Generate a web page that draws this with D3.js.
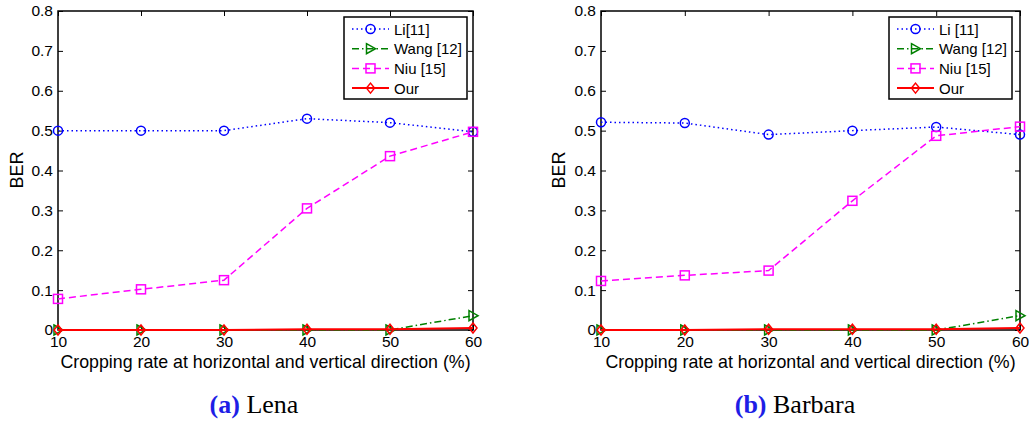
<!DOCTYPE html>
<html>
<head>
<meta charset="utf-8">
<script src="https://cdn.jsdelivr.net/npm/d3@7"></script>
<style>
  body { margin: 0; background: #fff; }
  svg { display: block; font-family: "Liberation Sans", Arial, sans-serif; }
</style>
</head>
<body>
<svg id="chart"></svg>
<script>
// cropping rates on the x axis
var rates = [10, 20, 30, 40, 50, 60];
var yTicks = [0, 0.1, 0.2, 0.3, 0.4, 0.5, 0.6, 0.7, 0.8];

// (a) Lena
var lenaLi   = [0.500, 0.500, 0.500, 0.530, 0.520, 0.497];
var lenaWang = [0.000, 0.000, 0.000, 0.000, 0.000, 0.036];
var lenaNiu  = [0.078, 0.102, 0.125, 0.305, 0.436, 0.497];
var lenaOur  = [0.000, 0.000, 0.000, 0.002, 0.002, 0.005];

// (b) Barbara
var barbLi   = [0.521, 0.519, 0.490, 0.500, 0.509, 0.490];
var barbWang = [0.000, 0.000, 0.000, 0.000, 0.000, 0.036];
var barbNiu  = [0.123, 0.137, 0.149, 0.324, 0.487, 0.510];
var barbOur  = [0.000, 0.000, 0.002, 0.002, 0.002, 0.005];

var lenaLabels = ["Li[11]", "Wang [12]", "Niu [15]", "Our"];
var barbLabels = ["Li [11]", "Wang [12]", "Niu [15]", "Our"];

var width = 1029, height = 423;
var svg = d3.select("#chart").attr("width", width).attr("height", height);

// line styles per method
var styles = [
    { color: "#0000ff", dash: "1.5,3", marker: "circle" },
    { color: "#008000", dash: "7,3,1.5,3", marker: "triangle" },
    { color: "#ff00ff", dash: "7,4", marker: "square" },
    { color: "#ff0000", dash: null, marker: "diamond" }
];

function drawMarker(g, type, x, y, color) {
    if (type == "circle") {
        g.append("circle").attr("cx", x).attr("cy", y).attr("r", 4.5)
            .attr("fill", "none").attr("stroke", color).attr("stroke-width", 1.5);
    } else if (type == "square") {
        g.append("rect").attr("x", x - 4.5).attr("y", y - 4.5).attr("width", 9).attr("height", 9)
            .attr("fill", "none").attr("stroke", color).attr("stroke-width", 1.5);
    } else if (type == "triangle") {
        g.append("path").attr("d", `M${x - 4},${y - 5}L${x + 5},${y}L${x - 4},${y + 5}Z`)
            .attr("fill", "none").attr("stroke", color).attr("stroke-width", 1.5);
    } else {
        g.append("path").attr("d", `M${x},${y - 5}L${x + 4},${y}L${x},${y + 5}L${x - 4},${y}Z`)
            .attr("fill", "none").attr("stroke", color).attr("stroke-width", 1.5);
    }
}

function drawPanel(left, right, series, labels, tag, name, captionX, berX, legendX) {
    var top = 11, bottom = 330;
    var x = d3.scaleLinear().domain([10, 60]).range([left, right]);
    var y = d3.scaleLinear().domain([0, 0.8]).range([bottom, top]);
    var g = svg.append("g");

    // axes with inward ticks on all four sides
    var fmtY = d => d == 0 ? "0" : d3.format(".1f")(d);
    g.append("g").attr("transform", `translate(${left},0)`)
        .call(d3.axisLeft(y).tickValues(yTicks).tickFormat(fmtY).tickSizeInner(-5).tickSizeOuter(0).tickPadding(5));
    g.append("g").attr("transform", `translate(${right},0)`)
        .call(d3.axisRight(y).tickValues(yTicks).tickFormat("").tickSizeInner(-5).tickSizeOuter(0));
    g.append("g").attr("transform", `translate(0,${bottom})`)
        .call(d3.axisBottom(x).tickValues(rates).tickFormat(d3.format("d")).tickSizeInner(-5).tickSizeOuter(0).tickPadding(6));
    g.append("g").attr("transform", `translate(0,${top})`)
        .call(d3.axisTop(x).tickValues(rates).tickFormat("").tickSizeInner(-5).tickSizeOuter(0));
    g.selectAll(".tick line").attr("stroke", "#000").attr("stroke-width", 1);
    g.selectAll(".domain").remove();
    g.selectAll(".tick text").attr("fill", "#000").attr("font-size", 15.5)
        .attr("font-family", "Liberation Sans, Arial, sans-serif");

    g.append("rect").attr("x", left).attr("y", top)
        .attr("width", right - left).attr("height", bottom - top)
        .attr("fill", "none").attr("stroke", "#000").attr("stroke-width", 1.5);

    // data lines
    var line = d3.line().x((d, i) => x(rates[i])).y(d => y(d));
    series.forEach((vals, k) => {
        var s = styles[k];
        g.append("path").datum(vals).attr("d", line)
            .attr("fill", "none").attr("stroke", s.color)
            .attr("stroke-width", k == 3 ? 2 : 1.5)
            .attr("stroke-dasharray", s.dash);
        vals.forEach((v, i) => drawMarker(g, s.marker, x(rates[i]), y(v), s.color));
    });

    // legend
    var lg = g.append("g").attr("transform", `translate(${legendX},17)`);
    lg.append("rect").attr("width", 123).attr("height", 82)
        .attr("fill", "#fff").attr("stroke", "#000").attr("stroke-width", 1.5);
    labels.forEach((lab, k) => {
        var s = styles[k];
        var ly = 12 + k * 19.7;
        lg.append("line").attr("x1", 8).attr("x2", 45).attr("y1", ly).attr("y2", ly)
            .attr("stroke", s.color).attr("stroke-width", k == 3 ? 2 : 1.5)
            .attr("stroke-dasharray", s.dash);
        drawMarker(lg, s.marker, 26.5, ly, s.color);
        lg.append("text").attr("x", 50).attr("y", ly + 5.5)
            .attr("font-size", 15).attr("fill", "#000").text(lab);
    });

    // axis titles
    g.append("text").attr("x", (left + right) / 2).attr("y", 368)
        .attr("text-anchor", "middle").attr("font-size", 17.8)
        .text("Cropping rate at horizontal and vertical direction (%)");
    g.append("text").attr("transform", `translate(${berX},170) rotate(-90)`)
        .attr("text-anchor", "middle").attr("font-size", 18).text("BER");

    // caption
    var cap = g.append("text").attr("x", captionX).attr("y", 413)
        .attr("text-anchor", "middle").attr("font-family", "Liberation Serif, Times New Roman, serif")
        .attr("font-size", 26);
    cap.append("tspan").attr("fill", "#1e1ee6").attr("font-weight", "bold").text(tag);
    cap.append("tspan").attr("fill", "#000").text(" " + name);
}

drawPanel(58, 473, [lenaLi, lenaWang, lenaNiu, lenaOur], lenaLabels, "(a)", "Lena", 254, 23, 344);
drawPanel(601, 1020, [barbLi, barbWang, barbNiu, barbOur], barbLabels, "(b)", "Barbara", 795, 565, 889);
</script>
</body>
</html>
